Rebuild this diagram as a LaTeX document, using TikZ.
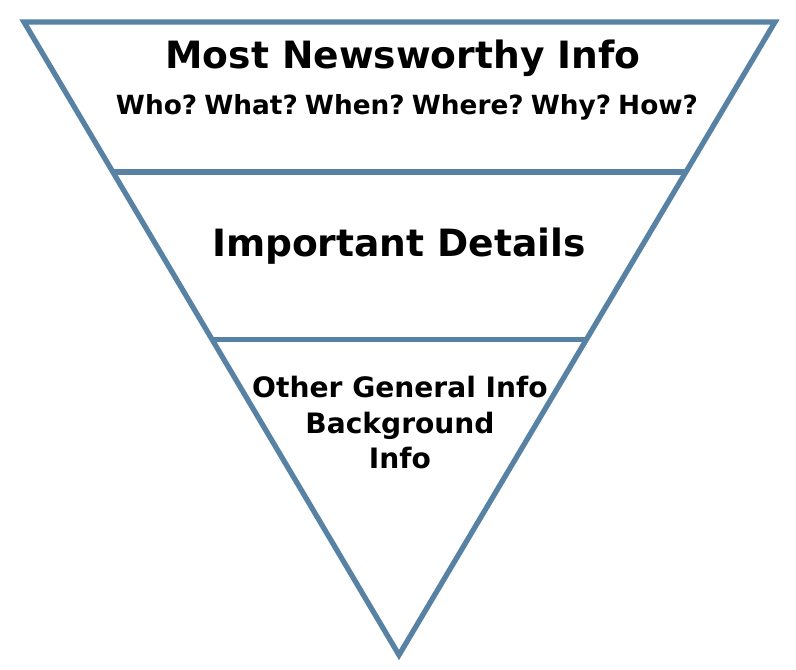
\documentclass[tikz,border=0pt]{standalone}
\usepackage{fontspec}
\setmainfont{DejaVu Sans}
\usetikzlibrary{calc}
\definecolor{pyramidBlue}{RGB}{88,130,163}

\begin{document}
\begin{tikzpicture}[
        x=0.02cm, y=-0.02cm,
        edge/.style={draw=pyramidBlue, line width=3pt, line join=miter},
        headline/.style={font=\fontsize{21.4}{25}\selectfont\bfseries, anchor=base},
        subline/.style={font=\fontsize{15}{18}\selectfont\bfseries, anchor=base},
        layertext/.style={font=\fontsize{16}{20.2}\selectfont\bfseries, align=center, anchor=north}
      ]
      \useasboundingbox (0,0) rectangle (796,670);
      % corners of the funnel
      \coordinate (topleft) at (24,22);
      \coordinate (topright) at (775,22);
      \coordinate (apex) at (399,655);
      \coordinate (midleft) at ($(topleft)!0.237!(apex)$);
      \coordinate (midright) at ($(topright)!0.237!(apex)$);
      \coordinate (lowleft) at ($(topleft)!0.501!(apex)$);
      \coordinate (lowright) at ($(topright)!0.501!(apex)$);
      \draw[edge] (topleft) -- (topright) -- (apex) -- cycle;
      \draw[edge] (midleft) -- (midright);
      \draw[edge] (lowleft) -- (lowright);
      % texts
      \node[headline] (newsworthy) at (403,68) {Most Newsworthy Info};
      \node[subline] (questions) at (407,114) {Who?\hspace{0.27em}What?\hspace{0.27em}When?\hspace{0.27em}Where?\hspace{0.27em}Why?\hspace{0.27em}How?};
      \node[headline] (details) at (399,256) {Important Details};
      \node[layertext] (general) at (400,370) {Other General Info\\Background\\Info};
    \end{tikzpicture}
\end{document}
